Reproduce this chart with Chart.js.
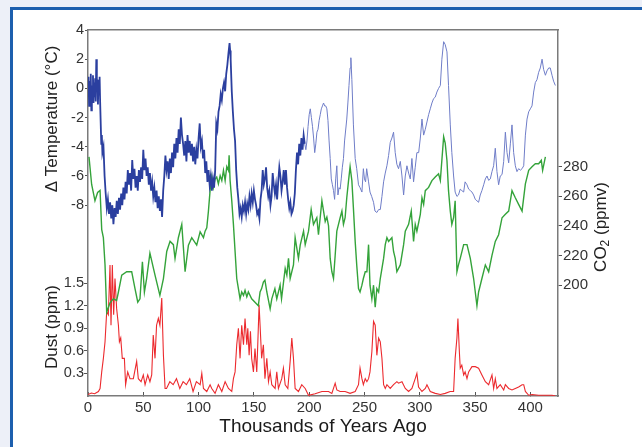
<!DOCTYPE html>
<html>
<head>
<meta charset="utf-8">
<title>Vostok ice core</title>
<script src="https://cdn.jsdelivr.net/npm/chart.js@4.4.0/dist/chart.umd.min.js"></script>
<style>
  html, body { margin: 0; padding: 0; width: 642px; height: 447px; overflow: hidden; background: #edf0f8; }
  #frame { position: absolute; left: 10px; top: 7px; width: 660px; height: 470px; background: #fff; border: 3px solid #1d5fae; box-sizing: border-box; }
  #chart { position: absolute; left: 0; top: 0; }
</style>
</head>
<body>
<div id="frame"></div>
<canvas id="chart" width="642" height="447"></canvas>
<script>
// Eksen etiketleri
const yearTicks = [0, 50, 100, 150, 200, 250, 300, 350, 400];
const tempTicks = [-8, -6, -4, -2, 0, 2, 4];
const dustTicks = [0.3, 0.6, 0.9, 1.2, 1.5];
const co2Ticks = [200, 220, 240, 260, 280];

// Sıcaklık farkı (°C) — [bin yıl, değer]
const tempSeries = [
  [0, -0.5], [0.5, 0.8], [1, -1.2], [1.5, 0.5], [2, -0.8], [2.5, 1.0], [3, -1.5], [3.5, 0.2],
  [4, -0.3], [4.5, 0.9], [5, -1.0], [5.5, 0.4], [6, -0.6], [6.5, 0.7], [7, -0.9], [7.5, 2.0],
  [8, -0.2], [8.5, 0.6], [9, -1.1], [9.5, 0.5], [10, -0.4], [10.5, 0.8], [11, -1.0],
  [12, -3.8], [12.5, -3.2], [13, -4.4], [14, -4.0], [15, -6.0], [16, -7.2], [17, -8.2],
  [18, -7.6], [19, -8.6], [20, -7.8], [21, -8.9], [22, -8.0], [23, -9.3], [24, -8.2], [25, -8.8],
  [26, -7.7], [27, -8.6], [28, -7.5], [29, -8.3], [30, -7.2], [31, -8.0], [32, -6.8], [33, -7.6],
  [34, -6.4], [35, -7.2], [36, -5.6], [37, -6.6], [38, -5.8], [39, -7.0], [40, -4.9], [41, -6.2],
  [42, -5.5], [43, -6.8], [44, -6.0], [45, -7.0], [46, -5.6], [47, -6.4], [48, -5.4], [49, -6.2],
  [50, -4.2], [51, -5.6], [52, -4.8], [53, -6.0], [54, -5.4], [55, -6.6], [56, -5.8], [57, -7.0],
  [58, -6.4], [59, -7.4], [60, -6.8], [61, -7.8], [62, -7.0], [63, -8.2], [64, -7.4], [65, -8.4],
  [66, -7.6], [67, -8.8], [68, -7.0], [69, -6.0], [70, -4.6], [71, -5.6], [72, -5.0], [73, -6.2],
  [74, -4.8], [75, -5.8], [76, -4.4], [77, -5.4], [78, -3.8], [79, -4.8], [80, -3.4], [81, -4.4],
  [82, -2.8], [83, -3.8], [84, -2.0], [85, -3.2], [86, -3.8], [87, -4.6], [88, -3.6], [89, -5.0],
  [90, -3.2], [91, -4.4], [92, -3.6], [93, -4.6], [94, -3.8], [95, -5.0], [96, -4.0], [97, -5.2],
  [98, -4.2], [99, -4.8], [100, -3.4], [101, -2.4], [102, -4.0], [103, -3.6], [104, -4.8], [105, -4.2],
  [106, -5.8], [107, -5.0], [108, -6.4], [109, -5.6], [110, -6.6], [111, -6.0], [112, -7.0], [113, -6.2],
  [114, -6.8], [115, -5.6], [116, -2.4], [117, -2.8], [118, -1.6], [119, -1.2], [120, -0.4], [121, -0.8],
  [122, 0.0], [123, 0.4], [124, -0.2], [125, 1.0], [126, 1.6], [127, 2.4], [128, 3.1], [128.5, 2.6],
  [129, 2.0], [130, -0.2], [131, -1.6], [132, -2.8], [133, -3.6], [134, -5.6], [135, -6.8], [136, -7.6],
  [137, -8.6], [138, -8.2], [139, -8.8], [140, -8.0], [141, -8.4], [142, -7.8], [143, -8.6], [144, -7.9],
  [145, -8.3], [146, -7.4], [147, -8.0], [148, -7.2], [149, -7.8], [150, -7.0], [151, -7.6], [152, -8.0],
  [153, -8.6], [154, -8.4], [155, -8.9], [156, -7.6], [157, -7.0], [158, -5.6], [159, -6.6], [160, -6.2],
  [161, -5.4], [162, -6.8], [163, -7.4], [164, -7.0], [165, -8.0], [166, -7.4], [167, -5.8], [168, -6.6],
  [169, -7.2], [170, -6.6], [171, -7.6], [172, -6.4], [173, -5.4], [174, -6.0], [175, -7.0], [176, -6.4],
  [177, -5.6], [178, -6.6], [179, -5.6], [180, -6.8], [181, -7.6], [182, -8.2], [183, -7.8], [184, -8.6],
  [185, -8.4], [186, -8.0], [187, -7.2], [188, -5.6], [189, -4.4], [190, -5.2], [191, -3.8], [192, -4.6],
  [193, -3.4], [194, -4.2], [195, -3.2], [196, -3.8], [197, -4.2], [198, -3.6], [199, -2.6], [200, -1.8],
  [201, -1.4], [202, -2.0], [203, -2.6], [204, -3.4], [205, -4.4], [206, -3.8], [207, -3.0], [208, -2.8],
  [209, -2.2], [210, -1.8], [211, -1.4], [212, -1.2], [213, -1.0], [214, -1.2], [215, -1.2], [216, -1.4],
  [217, -2.2], [218, -3.6], [219, -4.8], [220, -6.2], [221, -6.6], [222, -7.0], [223, -7.6], [224, -6.2],
  [225, -5.3], [226, -7.3], [227, -6.8], [228, -6.9], [229, -6.2], [230, -5.4], [231, -4.8], [232, -3.6],
  [234, -2.1], [235, -1.0], [236, 0.2], [237, 1.4], [237.7, 2.1], [238.6, 0.6], [240, -2.5], [241.6, -4.8],
  [243, -5.5], [244.6, -6.6], [246, -6.8], [247.7, -7.1], [249, -5.5], [250, -6.2], [251, -6.4], [252, -5.5],
  [253.7, -6.4], [255, -7.1], [256.5, -7.4], [258.2, -7.8], [259.5, -8.4], [261.2, -8.5], [262.8, -8.3], [264.3, -8.3],
  [265.8, -7.4], [267.3, -6.4], [268.8, -5.8], [270.3, -5.3], [271.8, -4.6], [273.3, -3.7], [274.8, -3.4], [276.3, -3.0],
  [277.8, -4.4], [279.3, -5.2], [280.8, -5.5], [282.4, -5.0], [283.9, -6.0], [285.4, -7.3], [286.9, -6.0], [288.4, -5.3],
  [289.9, -5.8], [291.4, -6.2], [292.9, -4.8], [294.4, -6.4], [295.9, -5.4], [297.4, -4.4], [299, -4.4], [300.5, -3.4],
  [302, -2.1], [303.5, -3.2], [305, -2.8], [306.5, -2.3], [308, -1.8], [309.5, -1.4], [311, -1.0], [312.5, -0.7],
  [314, -0.6], [315.5, -0.25], [317, 0.0], [318.6, 0.2], [320, 2.0], [321.6, 3.2], [323, 3.0], [324.6, 2.5],
  [326, 0.2], [327.6, -2.5], [329, -4.4], [330.6, -6.0], [332, -7.1], [333.6, -7.4], [335, -7.3], [336.6, -6.9],
  [338, -7.0], [339.7, -7.1], [341, -6.4], [342.7, -6.6], [344.2, -6.9], [345.7, -7.0], [347.2, -7.1], [348.7, -7.3],
  [350.2, -7.6], [351.7, -7.7], [353.2, -7.8], [354.7, -7.3], [356.2, -7.0], [357.8, -6.6], [359.3, -6.2], [360.8, -6.0],
  [362.3, -6.3], [363.8, -6.2], [365.3, -5.7], [366.8, -5.3], [368.3, -4.1], [369.8, -5.7], [371.3, -6.6], [372.8, -6.0],
  [374.4, -5.9], [375.9, -5.0], [377.4, -3.0], [378.9, -4.4], [380.4, -5.1], [381.9, -3.8], [383.4, -2.5], [384.9, -4.4],
  [386.4, -5.3], [387.9, -5.7], [389.4, -5.5], [391, -5.6], [392.5, -5.5], [394, -5.3], [395.5, -3.2], [397, -2.1],
  [398.5, -1.6], [400, -1.4], [401.5, -1.2], [403, -0.25], [404.5, 0.4], [406, 0.6], [407.5, 1.1], [409, 1.4],
  [410.6, 2.0], [412, 1.3], [413.6, 0.9], [415, 1.2], [416.6, 1.4], [418, 1.4], [419.6, 0.9], [421, 0.5], [422.6, 0.2]
];

// CO2 (ppmv)
const co2Series = [
  [0.9, 286.6], [3.3, 268], [6.3, 257], [8.7, 262.6], [10.9, 264], [12.4, 237.5], [13.9, 232], [15.4, 213.6],
  [16.9, 181.6], [19.9, 188], [22.9, 190.7], [25.9, 189.6], [27.5, 195.3], [30.5, 206.7], [35, 209], [39.5, 209],
  [42.5, 197.6], [45, 188.4], [47, 190.7], [49.2, 215.8], [51, 195.3], [53, 204.4], [56, 221.6], [60.6, 206.7],
  [65, 193], [68.2, 204.4], [71.2, 222.7], [74.2, 229.5], [77.2, 227.3], [78.7, 218], [81.7, 232], [84.8, 241],
  [87.8, 209], [90.8, 227], [93.8, 232], [98.3, 227], [101.4, 236], [104.4, 232], [105.9, 236.4], [107.4, 238.7],
  [108.9, 250], [110.4, 264], [111.9, 273], [113.4, 266], [114.9, 271.7], [116.4, 273], [117.9, 268.4], [119.5, 274],
  [121, 270.6], [122.5, 277.5], [124, 270.6], [125.5, 280], [127, 277.5], [127.6, 287.8], [128.5, 270.6], [130, 257],
  [131.5, 241], [133, 222.7], [134.5, 204.4], [136, 197.6], [137.5, 190.7], [139, 195.3], [140.6, 193], [142, 196.4],
  [143.6, 192], [145, 195.3], [148, 190.7], [151, 188.4], [154, 186], [155.6, 195.3], [157, 197.6], [158.6, 202],
  [160, 203.3], [161.7, 195.3], [164.7, 183.9], [166.2, 190.7], [169, 197.6], [170.7, 190.7], [173.7, 199.9], [175, 190.7],
  [178.3, 211.3], [179.8, 206.7], [181.3, 218], [182.8, 204.4], [185.8, 213.6], [187.3, 232], [190.3, 218], [191.9, 227],
  [194.9, 236.4], [196.4, 227.3], [199.4, 236.4], [201.8, 251], [203.9, 241], [206.9, 245.5], [208.4, 234], [211.5, 257],
  [213, 250], [214.5, 243], [216, 246], [217.5, 240], [219, 218], [220.5, 209], [222, 204.4], [223.5, 220],
  [225, 236.4], [226.5, 241], [228, 245.5], [229.6, 250], [231, 241], [232.5, 245.5], [234, 259], [235.6, 270.6],
  [237, 280], [238.6, 270.6], [240, 252], [241.6, 229.5], [243, 213.6], [244.6, 197.6], [246, 195.3], [247.7, 199.9],
  [249, 204.4], [250.7, 209], [252.2, 209], [253.7, 227.3], [255, 199.9], [256.7, 190.7], [258.2, 199.9], [259.7, 185],
  [261.2, 197.6], [262.8, 195.3], [264.3, 204.4], [267.3, 218], [268.8, 227.3], [270.3, 232], [271.8, 229.5], [274.8, 232],
  [276.3, 222.7], [277.8, 218], [279.3, 209], [282.4, 213.6], [285.4, 227.3], [286.9, 236.4], [289.9, 241], [292.3, 250],
  [294.4, 229.5], [295.9, 241], [297.4, 236.4], [300.5, 247.8], [302, 259], [303.5, 254.5], [305, 263.8], [308, 266],
  [311, 270.6], [314, 273], [317, 275.2], [318.6, 270.6], [321.6, 300.3], [323, 296], [324.6, 284], [326, 263.8],
  [327.6, 250], [329, 241], [330.6, 245.5], [332, 257], [333.6, 209], [335, 213.6], [336.6, 218], [339.7, 227.3],
  [342.7, 227.3], [345.7, 218], [348.7, 204.4], [351.7, 186], [353.2, 195.3], [356.2, 204.4], [359.3, 213.6], [362.3, 209],
  [365.3, 220], [368.3, 229.5], [371.3, 234], [374.4, 245.5], [377.4, 247.8], [380.4, 250], [383.4, 263.8], [386.4, 259],
  [389.4, 254.5], [392.5, 250], [395.5, 268.4], [398.5, 277.5], [401.5, 280], [404.5, 282], [407.5, 282], [409.9, 284.3],
  [411.1, 277.5], [413.6, 286.6]
];

// Toz (ppm)
const dustSeries = [
  [0, 0.02], [3, 0.04], [6, 0.03], [9.4, 0.06], [10.9, 0.10], [12.4, 0.32], [13.9, 0.5], [15.4, 0.72],
  [16.9, 1.12], [18.4, 1.08], [19.9, 1.74], [20.8, 0.94], [22, 1.74], [23.2, 1.08], [24.4, 1.56], [25.9, 1.16],
  [27.5, 0.94], [28.4, 0.72], [29.6, 0.77], [31, 0.5], [32.9, 0.5], [34, 0.15], [35.9, 0.32], [38, 0.23],
  [41, 0.23], [44, 0.46], [45.5, 0.23], [48, 0.19], [50, 0.28], [51.6, 0.15], [54, 0.28], [56, 0.19],
  [57.6, 0.28], [59, 0.81], [60.6, 0.5], [62, 0.94], [63.6, 1.03], [65, 0.94], [66.7, 1.3], [68.2, 0.54],
  [69.7, 0.1], [71, 0.1], [74, 0.19], [77, 0.15], [80, 0.23], [83, 0.1], [86, 0.19], [89, 0.15],
  [92, 0.23], [95, 0.06], [98, 0.19], [101.4, 0.15], [102.9, 0.30], [104.4, 0.1], [107.4, 0.06], [110.4, 0.15],
  [111.9, 0.10], [114.9, 0.035], [117.9, 0.15], [121, 0.06], [124, 0.19], [127, 0.10], [130, 0.06], [131.5, 0.23],
  [133, 0.32], [134.5, 0.68], [136, 0.9], [137.5, 0.5], [139, 0.94], [140.6, 0.68], [142, 1.03], [143.6, 0.68],
  [144.5, 0.9], [145.7, 0.54], [146.9, 0.86], [148, 0.5], [149.6, 0.32], [151, 0.63], [152.6, 0.32], [153.5, 0.68],
  [154.7, 1.21], [155.6, 0.94], [157, 0.5], [158.6, 0.68], [160, 0.23], [161.7, 0.5], [163.2, 0.19], [164.7, 0.32],
  [166.2, 0.15], [169.2, 0.10], [170.7, 0.32], [172.2, 0.10], [175.2, 0.23], [176.7, 0.37], [178.3, 0.15], [180.7, 0.10],
  [182.8, 0.46], [184.3, 0.77], [185.8, 0.5], [187.3, 0.10], [190.3, 0.06], [193.3, 0.15], [196.4, 0.10], [199.4, 0.01],
  [205.4, 0.03], [211.5, 0.06], [217.5, 0.06], [220.5, 0.035], [223.5, 0.17], [225, 0.08], [228, 0.06], [232.5, 0.06],
  [237, 0.035], [241.6, 0.06], [244.6, 0.15], [246, 0.37], [247.7, 0.23], [249, 0.15], [250.7, 0.23], [252.2, 0.19],
  [253.7, 0.23], [255, 0.32], [256.7, 0.59], [258.2, 0.99], [259.7, 0.94], [261.2, 0.54], [262.8, 0.77], [264.3, 0.72],
  [265.8, 0.5], [267.3, 0.15], [268.8, 0.10], [270.3, 0.15], [273.3, 0.10], [276.3, 0.15], [279.3, 0.19], [280.8, 0.17],
  [283.9, 0.19], [286.9, 0.10], [289.9, 0.06], [292.9, 0.10], [295.9, 0.23], [297.4, 0.30], [298.9, 0.12], [302, 0.06],
  [305, 0.10], [306.5, 0.15], [309.5, 0.06], [314, 0.035], [318.6, 0.02], [323, 0.035], [327.5, 0.06], [330.6, 0.06],
  [332, 0.5], [333.6, 0.77], [334.5, 1.03], [335.8, 0.59], [336.6, 0.37], [338, 0.41], [339.7, 0.28], [341, 0.32],
  [342.7, 0.23], [344.2, 0.32], [347.2, 0.39], [350.2, 0.39], [353.2, 0.37], [356.2, 0.28], [359.3, 0.19], [362.3, 0.15],
  [365.3, 0.28], [366.8, 0.10], [368.3, 0.23], [369.8, 0.10], [372.8, 0.15], [375.9, 0.08], [377.4, 0.15], [380.4, 0.10],
  [383.4, 0.08], [386.4, 0.10], [389.4, 0.12], [392.5, 0.15], [394, 0.15], [395.5, 0.06], [398.5, 0.01], [401.5, 0.02],
  [407.5, 0.01], [413.6, 0.01], [419.6, 0.01], [422.6, 0.0]
];

const FONT = '"Liberation Sans", Arial, Helvetica, sans-serif';
Chart.defaults.font.family = FONT;
Chart.defaults.color = '#333';

const AXIS_GREY = '#7a7a7a';

function toPoints(series) {
  return series.map(([x, y]) => ({ x, y }));
}

function fixedTicks(values) {
  return scale => { scale.ticks = values.map(v => ({ value: v })); };
}

// Eksen başlıkları (CO2 alt simgeli) elle çiziliyor
const axisTitles = {
  id: 'axisTitles',
  afterDraw(chart) {
    const ctx = chart.ctx;
    ctx.save();
    ctx.fillStyle = '#222';
    ctx.textBaseline = 'middle';

    function rotated(x, y, draw) {
      ctx.save();
      ctx.translate(x, y);
      ctx.rotate(-Math.PI / 2);
      draw();
      ctx.restore();
    }

    ctx.font = '17px ' + FONT;
    ctx.textAlign = 'center';
    rotated(52, 119, () => ctx.fillText('\u0394 Temperature (\u00B0C)', 0, 0));
    rotated(52, 327, () => ctx.fillText('Dust (ppm)', 0, 0));

    rotated(601, 227, () => {
      ctx.textAlign = 'left';
      const big = '17px ' + FONT, small = '12px ' + FONT;
      ctx.font = big;
      const w1 = ctx.measureText('CO').width;
      const w3 = ctx.measureText(' (ppmv)').width;
      ctx.font = small;
      const w2 = ctx.measureText('2').width;
      let x = -(w1 + w2 + w3) / 2;
      ctx.font = big;
      ctx.fillText('CO', x, 0);
      x += w1;
      ctx.font = small;
      ctx.fillText('2', x, 5);
      x += w2;
      ctx.font = big;
      ctx.fillText(' (ppmv)', x, 0);
    });
    ctx.restore();
  }
};

new Chart(document.getElementById('chart'), {
  type: 'line',
  data: {
    datasets: [
      {
        label: 'Temperature',
        data: toPoints(tempSeries),
        yAxisID: 'yTemp',
        borderColor: '#2b3f9f',
        borderWidth: 1.8,
        segment: {
          borderColor: c => c.p0.parsed.x < 196 ? '#2b3f9f' : '#6f7dc8',
          borderWidth: c => c.p0.parsed.x < 196 ? 1.8 : 1
        }
      },
      {
        label: 'CO2',
        data: toPoints(co2Series),
        yAxisID: 'yCO2',
        borderColor: '#34a33a',
        borderWidth: 1.4
      },
      {
        label: 'Dust',
        data: toPoints(dustSeries),
        yAxisID: 'yDust',
        borderColor: '#ec2a2e',
        borderWidth: 1.1
      }
    ]
  },
  options: {
    responsive: false,
    animation: false,
    devicePixelRatio: 1,
    layout: { autoPadding: false, padding: { top: 30, left: 0, right: 0, bottom: 0 } },
    elements: { point: { radius: 0 }, line: { tension: 0 } },
    plugins: { legend: { display: false }, tooltip: { enabled: false } },
    scales: {
      x: {
        type: 'linear',
        position: 'bottom',
        min: 0,
        max: 425,
        afterBuildTicks: fixedTicks(yearTicks),
        afterFit: s => { s.height = 51; },
        ticks: { font: { size: 15 }, padding: 7, maxRotation: 0, autoSkip: false, color: '#333' },
        grid: { drawOnChartArea: false, tickLength: -4, color: '#555' },
        border: { color: AXIS_GREY, width: 1.5 },
        title: {
          display: true,
          text: 'Thousands of Years Ago',
          font: { size: 19 },
          color: '#1a1a1a',
          padding: { top: 0, bottom: 9 }
        }
      },
      xTop: {
        type: 'linear',
        position: 'top',
        display: true,
        min: 0,
        max: 425,
        afterFit: s => { s.height = 0; },
        ticks: { display: false },
        grid: { drawOnChartArea: false, drawTicks: false },
        border: { color: AXIS_GREY, width: 1.5 }
      },
      yTemp: {
        type: 'linear',
        position: 'left',
        min: -21.07,
        max: 4,
        afterBuildTicks: fixedTicks(tempTicks),
        afterFit: s => { s.width = 88; },
        ticks: { font: { size: 14.5 }, padding: 1, callback: v => String(v) },
        grid: { drawOnChartArea: false, tickLength: 3, color: '#555' },
        border: { color: AXIS_GREY, width: 1.5 }
      },
      // Toz ekseni: sıcaklık ekseninin hemen solunda, etiketler aynı hizada
      yDust: {
        type: 'linear',
        position: { x: -3.6 },
        min: 0,
        max: 4.86,
        afterBuildTicks: fixedTicks(dustTicks),
        ticks: { font: { size: 14.5 }, padding: 1, callback: v => v.toFixed(1) },
        grid: { drawOnChartArea: false, tickLength: -3.5, color: '#555' },
        border: { display: false }
      },
      yCO2: {
        type: 'linear',
        position: 'right',
        min: 125,
        max: 372.4,
        afterBuildTicks: fixedTicks(co2Ticks),
        afterFit: s => { s.width = 84; },
        ticks: { font: { size: 15 }, padding: 1 },
        grid: { drawOnChartArea: false, tickLength: 4, color: '#555' },
        border: { color: AXIS_GREY, width: 1.5 }
      }
    }
  },
  plugins: [axisTitles]
});
</script>
</body>
</html>
